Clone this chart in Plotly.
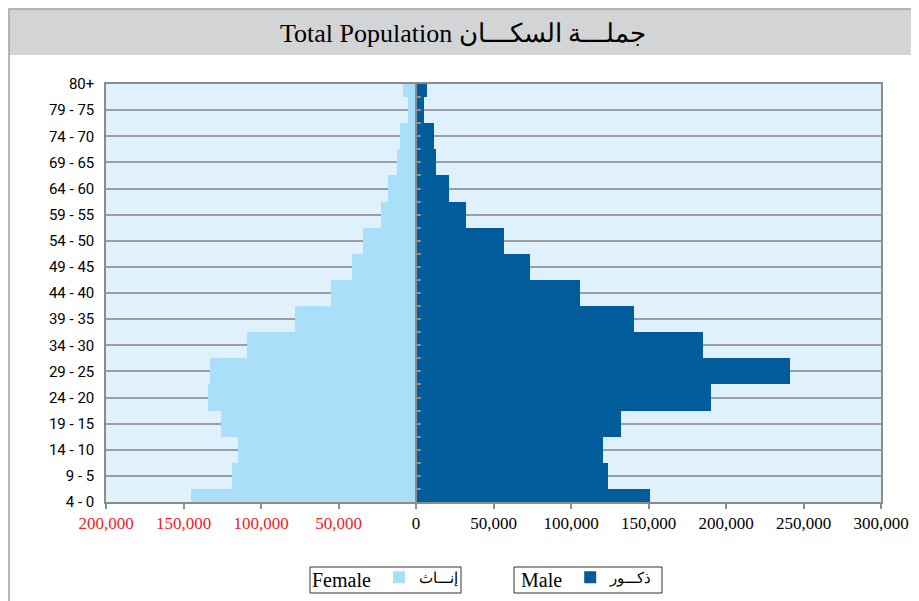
import plotly.graph_objects as go

# Age groups, top to bottom as shown
ages = ["80+", "79 - 75", "74 - 70", "69 - 65", "64 - 60", "59 - 55", "54 - 50",
        "49 - 45", "44 - 40", "39 - 35", "34 - 30", "29 - 25", "24 - 20",
        "19 - 15", "14 - 10", "9 - 5", "4 - 0"]

female = [8400, 5200, 10200, 12100, 17900, 22500, 34300, 41400, 55000,
          78100, 109300, 132600, 133900, 125700, 114700, 119000, 144900]

male = [6900, 5400, 11600, 12900, 21500, 32300, 56900, 73700, 105600,
        140800, 185000, 241100, 190200, 132400, 120600, 123600, 150700]

x_tickvals = [-200000, -150000, -100000, -50000, 0, 50000, 100000, 150000,
              200000, 250000, 300000]
x_ticklabels = ["200,000", "150,000", "100,000", "50,000", "0", "50,000",
                "100,000", "150,000", "200,000", "250,000", "300,000"]

title_text = "Total Population جملـــة السكـــان"
female_en, female_ar = "Female", "إنـــاث"
male_en, male_ar = "Male", "ذكـــور"

FEMALE_C = "#a9dff8"
MALE_C = "#005c9b"
RED = "#e8242b"

ticktext_colored = [
    (f"<span style='color:{RED}'>{t}</span>" if v < 0 else t)
    for v, t in zip(x_tickvals, x_ticklabels)
]

fig = go.Figure()
fig.add_trace(go.Bar(
    y=ages, x=[-v for v in female], orientation="h", name=female_ar,
    marker=dict(color=FEMALE_C, line=dict(width=0)), width=1,
    legend="legend", showlegend=True, hoverinfo="skip"))
fig.add_trace(go.Bar(
    y=ages, x=male, orientation="h", name=male_ar,
    marker=dict(color=MALE_C, line=dict(width=0)), width=1,
    legend="legend2", showlegend=True, hoverinfo="skip"))
# helper trace for the centre axis with half-step ticks
fig.add_trace(go.Scatter(x=[0], y=[8], yaxis="y2", mode="markers",
                         marker=dict(opacity=0), showlegend=False,
                         hoverinfo="skip"))

# figure coordinates (page has an 8px body margin)
W, H = 911, 593
L, R, T, B = 98, 38, 76, 99
pw, ph = W - L - R, H - T - B


def fx(px):
    return (px - L) / pw


def fy(py):
    return 1 - (py - T) / ph


def cx(px):
    return px / W


def cy(py):
    return 1 - py / H


legend_common = dict(
    xanchor="left", yanchor="top", xref="container", yref="container",
    orientation="h", bgcolor="rgba(0,0,0,0)", borderwidth=0,
    font=dict(family="Liberation Serif", size=15, color="black"),
    itemwidth=30, tracegroupgap=0,
)

fig.update_layout(
    width=W, height=H,
    margin=dict(l=L, r=R, t=T, b=B, pad=0, autoexpand=False),
    paper_bgcolor="white",
    plot_bgcolor="#dff1fc",
    barmode="overlay",
    bargap=0,
    xaxis=dict(
        range=[-200000, 300000], tickvals=x_tickvals, ticktext=ticktext_colored,
        showgrid=False, zeroline=False,
        showline=True, mirror=True, linecolor="#8c8c8c", linewidth=1.5,
        ticks="outside", ticklen=5, tickcolor="#8c8c8c", tickwidth=1.5,
        tickfont=dict(family="Liberation Serif", size=17, color="black"),
        fixedrange=True,
    ),
    yaxis=dict(
        type="category", categoryorder="array",
        categoryarray=list(reversed(ages)),
        range=[0, 16],
        showgrid=True, gridcolor="#9b9ea3", gridwidth=1.5,
        showline=True, mirror=True, linecolor="#8c8c8c", linewidth=1.5,
        ticks="", ticklabelstandoff=7,
        tickfont=dict(family="Roboto", size=15, color="black"),
        fixedrange=True,
    ),
    yaxis2=dict(
        overlaying="y", anchor="free", position=0.4, side="left",
        range=[0, 16], tickvals=[i * 0.5 for i in range(33)],
        ticks="inside", ticklen=4, tickwidth=1.5, tickcolor="#8c8c8c",
        showticklabels=False, showgrid=False, zeroline=False,
        showline=True, linecolor="#8c8c8c", linewidth=1.5,
        fixedrange=True,
    ),
    legend=dict(
        x=cx(302), y=cy(553),
        title=dict(text=female_en, side="left",
                   font=dict(family="Liberation Serif", size=20, color="black")),
        **legend_common,
    ),
    legend2=dict(
        x=cx(511), y=cy(553),
        title=dict(text=male_en, side="left",
                   font=dict(family="Liberation Serif", size=20, color="black")),
        **legend_common,
    ),
    shapes=[
        # title band
        dict(type="rect", xref="paper", yref="paper",
             x0=fx(1), x1=fx(909), y0=fy(47), y1=fy(1),
             fillcolor="#d3d4d6", line=dict(width=0), layer="below"),
        # outer frame
        dict(type="rect", xref="paper", yref="paper",
             x0=fx(1), x1=fx(909), y0=fy(620), y1=fy(1),
             fillcolor="rgba(0,0,0,0)", line=dict(color="#a0a0a0", width=1.5),
             layer="below"),
        # legend boxes
        dict(type="rect", xref="paper", yref="paper",
             x0=fx(302), x1=fx(453), y0=fy(585), y1=fy(559),
             fillcolor="white", line=dict(color="#333333", width=1),
             layer="above"),
        dict(type="rect", xref="paper", yref="paper",
             x0=fx(506), x1=fx(654), y0=fy(585), y1=fy(559),
             fillcolor="white", line=dict(color="#333333", width=1),
             layer="above"),
    ],
    annotations=[
        dict(text=title_text, xref="paper", yref="paper",
             x=fx(455), y=fy(25), xanchor="center", yanchor="middle",
             showarrow=False,
             font=dict(family="Liberation Serif", size=26, color="black")),
    ],
)

fig.write_html("out.html")
